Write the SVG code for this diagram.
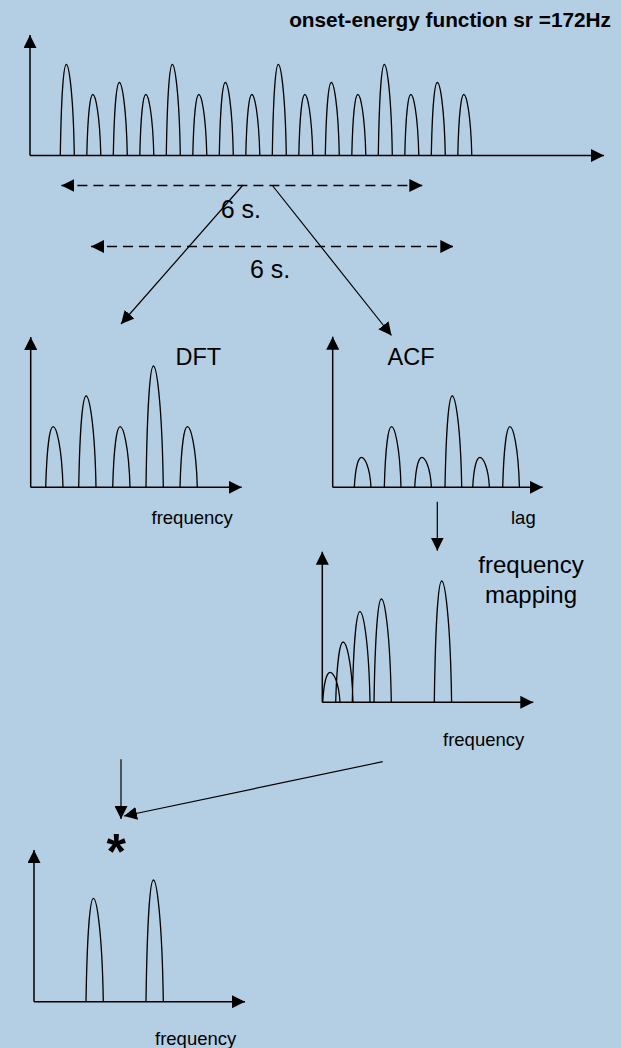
<svg xmlns="http://www.w3.org/2000/svg" width="621" height="1048" viewBox="0 0 621 1048">
  <style>
    .axis { fill: none; stroke: #000; stroke-width: 1.5; marker-end: url(#arr); }
    .peak { fill: none; stroke: #000; stroke-width: 1.3; stroke-linejoin: round; }
    .conn { fill: none; stroke: #000; stroke-width: 1.2; marker-end: url(#arr); }
    .dash { fill: none; stroke: #000; stroke-width: 1.3; stroke-dasharray: 10 6; marker-start: url(#arr2); marker-end: url(#arr); }
    .lbl { font-family: "Liberation Sans", Arial, sans-serif; fill: #000; }
    .big { font-size: 23.5px; }
    .small { font-size: 18.5px; }
  </style>
  <defs>
    <marker id="arr" viewBox="0 0 13 13" refX="13" refY="6.5" markerWidth="13" markerHeight="13" markerUnits="userSpaceOnUse" orient="auto">
      <path d="M0,0 L13,6.5 L0,13 Z" fill="#000"/>
    </marker>
    <marker id="arr2" viewBox="0 0 13 13" refX="13" refY="6.5" markerWidth="13" markerHeight="13" markerUnits="userSpaceOnUse" orient="auto-start-reverse">
      <path d="M0,0 L13,6.5 L0,13 Z" fill="#000"/>
    </marker>
  </defs>

  <rect width="621" height="1048" fill="#b4cfe3"/>

  <!-- onset-energy function -->
  <g id="onset">
    <text class="lbl" x="611" y="27.3" font-size="20.8" font-weight="bold" text-anchor="end">onset-energy function sr =172Hz</text>
    <path class="axis" d="M30,155.5 V35"/>
    <path class="axis" d="M30,155.5 H604"/>
    <path class="peak" d="
      M60.3,155.5 c 1,-63.7 3.5,-91 6,-91 s 7,27.3 8,91
      M86.8,155.5 c 1,-42.7 3.5,-61 6,-61 s 7,18.3 8,61
      M113.3,155.5 c 1,-51.1 3.5,-73 6,-73 s 7,21.9 8,73
      M139.8,155.5 c 1,-42.7 3.5,-61 6,-61 s 7,18.3 8,61
      M166.3,155.5 c 1,-63.7 3.5,-91 6,-91 s 7,27.3 8,91
      M192.8,155.5 c 1,-42.7 3.5,-61 6,-61 s 7,18.3 8,61
      M219.3,155.5 c 1,-51.1 3.5,-73 6,-73 s 7,21.9 8,73
      M245.8,155.5 c 1,-42.7 3.5,-61 6,-61 s 7,18.3 8,61
      M272.3,155.5 c 1,-63.7 3.5,-91 6,-91 s 7,27.3 8,91
      M298.8,155.5 c 1,-42.7 3.5,-61 6,-61 s 7,18.3 8,61
      M325.3,155.5 c 1,-51.1 3.5,-73 6,-73 s 7,21.9 8,73
      M351.8,155.5 c 1,-42.7 3.5,-61 6,-61 s 7,18.3 8,61
      M378.3,155.5 c 1,-63.7 3.5,-91 6,-91 s 7,27.3 8,91
      M404.8,155.5 c 1,-42.7 3.5,-61 6,-61 s 7,18.3 8,61
      M431.3,155.5 c 1,-51.1 3.5,-73 6,-73 s 7,21.9 8,73
      M457.8,155.5 c 1,-42.7 3.5,-61 6,-61 s 7,18.3 8,61"/>
  </g>

  <!-- DFT spectrum -->
  <g id="dft">
    <text class="lbl big" x="175.5" y="365">DFT</text>
    <path class="axis" d="M30.7,487.3 V337"/>
    <path class="axis" d="M30.7,487.3 H241.7"/>
    <path class="peak" d="
      M45.7,487.3 c 1.2,-42.4 4.3,-60.6 7.4,-60.6 s 8.7,18.2 9.9,60.6
      M78.7,487.3 c 1.2,-63.9 4.3,-91.3 7.4,-91.3 s 8.7,27.4 9.9,91.3
      M112.7,487.3 c 1.2,-42.4 4.3,-60.6 7.4,-60.6 s 8.7,18.2 9.9,60.6
      M146,487.3 c 1.2,-84.9 4.3,-121.3 7.4,-121.3 s 8.7,36.4 9.9,121.3
      M180,487.3 c 1.2,-42.4 4.3,-60.6 7.4,-60.6 s 8.7,18.2 9.9,60.6"/>
    <text class="lbl small" x="151.5" y="523.5">frequency</text>
  </g>

  <!-- ACF -->
  <g id="acf">
    <text class="lbl big" x="387.5" y="365">ACF</text>
    <path class="axis" d="M332.7,487.3 V336.7"/>
    <path class="axis" d="M332.7,487.3 H542.7"/>
    <path class="peak" d="
      M354.3,487.3 c 1.2,-21 4.2,-30 7.2,-30 s 8.4,9 9.5,30
      M384.3,487.3 c 1.2,-42.4 4.2,-60.6 7.2,-60.6 s 8.4,18.2 9.5,60.6
      M414.7,487.3 c 1.2,-21 4.2,-30 7.2,-30 s 8.4,9 9.5,30
      M445,487.3 c 1.2,-63.9 4.2,-91.3 7.2,-91.3 s 8.4,27.4 9.5,91.3
      M472.7,487.3 c 1.2,-21 4.2,-30 7.2,-30 s 8.4,9 9.5,30
      M502.7,487.3 c 1.2,-42.4 4.2,-60.6 7.2,-60.6 s 8.4,18.2 9.5,60.6"/>
    <text class="lbl small" x="511" y="524">lag</text>
  </g>

  <!-- ACF mapped to frequency -->
  <g id="mapping">
    <text class="lbl" font-size="24" text-anchor="middle" x="531" y="573.3">frequency</text>
    <text class="lbl" font-size="24" text-anchor="middle" x="531" y="603.3">mapping</text>
    <path class="axis" d="M322.3,702.3 V551.7"/>
    <path class="axis" d="M322.3,702.3 H533.3"/>
    <path class="peak" d="
      M322.7,702.3 c 1.2,-21 4.3,-30 7.4,-30 s 8.7,9 9.9,30
      M335.7,702.3 c 1.2,-42.2 4.3,-60.3 7.4,-60.3 s 8.7,18.1 9.9,60.3
      M352.3,702.3 c 1.2,-63.4 4.4,-90.6 7.6,-90.6 s 8.9,27.2 10.1,90.6
      M374,702.3 c 1.2,-72.3 4.3,-103.3 7.4,-103.3 s 8.7,31 9.9,103.3
      M434.3,702.3 c 1.2,-84.9 4.3,-121.3 7.4,-121.3 s 8.7,36.4 9.9,121.3"/>
    <text class="lbl small" x="443" y="746">frequency</text>
  </g>

  <!-- product of the two spectra -->
  <g id="product">
    <text class="lbl" x="106.5" y="869" font-size="50" font-weight="bold">*</text>
    <path class="axis" d="M34,1001.7 V850"/>
    <path class="axis" d="M34,1001.7 H245"/>
    <path class="peak" d="
      M86,1001.7 c 1.2,-72.3 4.3,-103.3 7.4,-103.3 s 8.7,31 9.9,103.3
      M146,1001.7 c 1.2,-85.2 4.3,-121.7 7.4,-121.7 s 8.7,36.5 9.9,121.7"/>
    <text class="lbl small" x="155" y="1045">frequency</text>
  </g>

  <!-- window spans -->
  <g id="windows">
    <text class="lbl" font-size="25" x="220.7" y="217.7">6 s.</text>
    <text class="lbl" font-size="25" x="250" y="278.3">6 s.</text>
  </g>

  <g id="connectors">
    <path class="dash" d="M61.4,185.5 H422.3"/>
    <path class="dash" d="M91,246.5 H453.3"/>
    <path class="conn" d="M243,185 L121,324"/>
    <path class="conn" d="M272,185 L391.5,335.5"/>
    <path class="conn" d="M437.3,501.7 V550.7"/>
    <path class="conn" d="M121,759.3 V819"/>
    <path class="conn" d="M382.7,761.7 L124,816"/>
  </g>
</svg>
